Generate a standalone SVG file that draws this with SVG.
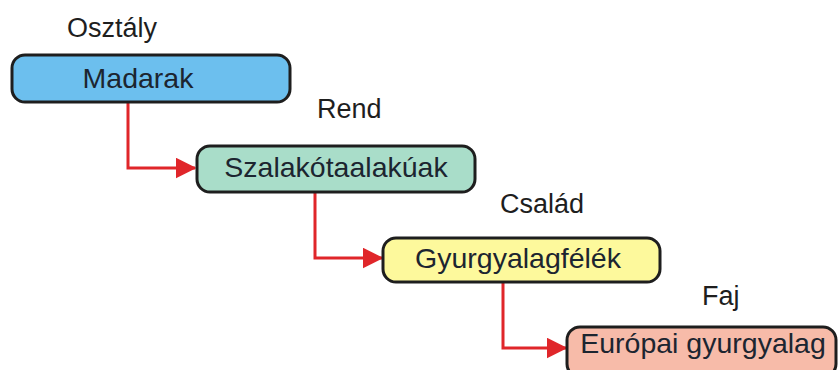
<svg xmlns="http://www.w3.org/2000/svg" width="838" height="370" viewBox="0 0 838 370">
<defs>
<marker id="arr" markerWidth="7" markerHeight="7" refX="6.5" refY="3.5" orient="auto" markerUnits="strokeWidth">
<path d="M0,0 L7,3.5 L0,7 Z" fill="#e0262a"/>
</marker>
<style>
.box{stroke:#1e1e1e;stroke-width:3}
.t{font-family:"Liberation Sans",Arial,sans-serif;font-size:28.5px;fill:#1c2530;text-anchor:middle}
.lbl{font-family:"Liberation Sans",Arial,sans-serif;font-size:27px;fill:#1e1e1e}
.con{fill:none;stroke:#e0262a;stroke-width:3;marker-end:url(#arr)}
</style>
</defs>
<rect width="838" height="370" fill="#ffffff"/>
<text class="lbl" x="67" y="37">Osztály</text>
<text class="lbl" x="317" y="118">Rend</text>
<text class="lbl" x="500" y="213">Család</text>
<text class="lbl" x="702" y="305">Faj</text>
<g id="connectors">
<path class="con" d="M128,102 V168 H195"/>
<path class="con" d="M315,192 V258 H382"/>
<path class="con" d="M503,282 V348 H566"/>
</g>
<g id="madarak">
<rect class="box" x="12" y="55" width="278" height="47" rx="13" fill="#6cbfee"/>
<text class="t" x="138" y="88">Madarak</text>
</g>
<g id="szalakotaalakuak">
<rect class="box" x="197" y="146" width="278" height="46" rx="13" fill="#a9ddc9"/>
<text class="t" x="336" y="177">Szalakótaalakúak</text>
</g>
<g id="gyurgyalagfelek">
<rect class="box" x="383" y="238" width="277" height="44" rx="13" fill="#fdf99c"/>
<text class="t" x="518" y="268">Gyurgyalagfélék</text>
</g>
<g id="europai">
<rect class="box" x="567" y="327" width="269" height="50" rx="13" fill="#f7bba9"/>
<text class="t" x="703" y="353">Európai gyurgyalag</text>
</g>
</svg>
